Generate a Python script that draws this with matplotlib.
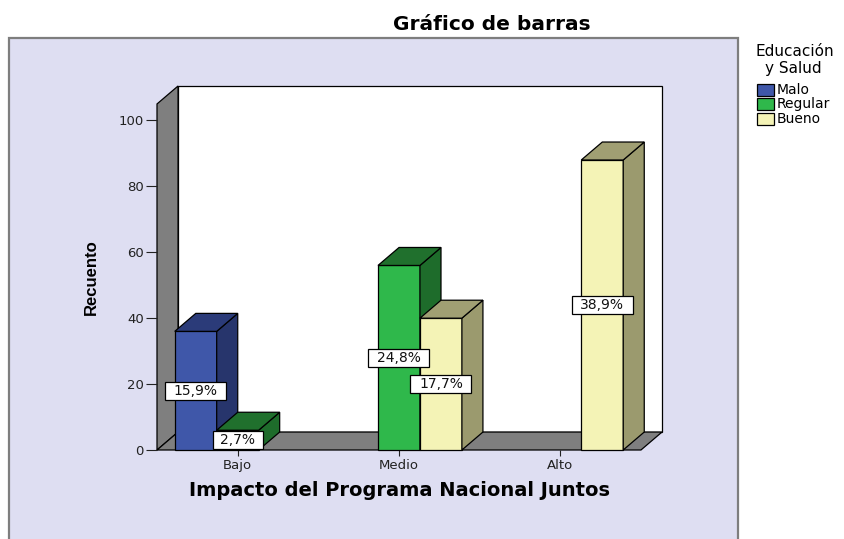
import matplotlib
matplotlib.use("Agg")
import matplotlib.pyplot as plt
import matplotlib.patches as mpatches
import matplotlib.transforms as mtransforms

# ---------------- data ----------------
categories = ["Bajo", "Medio", "Alto"]
series_names = ["Malo", "Regular", "Bueno"]
malo = [36, 0, 0]
regular = [6, 56, 0]
bueno = [0, 40, 88]
yticks = [0, 20, 40, 60, 80, 100]

title = "Gráfico de barras"
xlabel = "Impacto del Programa Nacional Juntos"
ylabel = "Recuento"
legend_title = ["Educación", "y Salud"]

# ---------------- style ----------------
W_PX, H_PX = 845, 539
front_cols = ["#3F57A9", "#2FB84B", "#F4F3B6"]
side_cols = ["#27356C", "#1E6C2B", "#9B9A6E"]
top_cols = ["#2B3B79", "#20702D", "#A09F73"]
wall_col = "#7F7F7F"
panel_col = "#DEDEF2"

BW = 0.26          # bar width (data units)
YMAX = 105         # front-plane top
DX = 21 / 161.0    # depth offset in x (data)
DY = 18 / 3.3      # depth offset in y (data)

fig = plt.figure(figsize=(W_PX / 100, H_PX / 100), dpi=100)
fig.patch.set_facecolor("white")

# lavender panel
panel = mpatches.Rectangle((9 / W_PX, -0.02), (738 - 9) / W_PX, 1.02 - 38 / H_PX,
                           transform=fig.transFigure, facecolor=panel_col,
                           edgecolor="#7E7E7E", linewidth=1.6, zorder=-5)
fig.patches.append(panel)

ax = fig.add_axes([157 / W_PX, (H_PX - 450) / H_PX, (662 - 157) / W_PX, (450 - 86) / H_PX])
ax.set_zorder(1)
ax.set_xlim(-0.5, 2.5 + DX)
ax.set_ylim(0, YMAX + DY)
ax.patch.set_visible(False)
for s in ax.spines.values():
    s.set_visible(False)

x0, x1 = -0.5, 2.5
ek = dict(edgecolor="black", linewidth=0.9, clip_on=False)
# back wall
ax.add_patch(mpatches.Polygon([(x0 + DX, DY), (x1 + DX, DY), (x1 + DX, YMAX + DY), (x0 + DX, YMAX + DY)],
                              closed=True, facecolor="white", zorder=1, **ek))
# left wall
ax.add_patch(mpatches.Polygon([(x0, 0), (x0, YMAX), (x0 + DX, YMAX + DY), (x0 + DX, DY)],
                              closed=True, facecolor=wall_col, zorder=1, **ek))
# floor
ax.add_patch(mpatches.Polygon([(x0, 0), (x1, 0), (x1 + DX, DY), (x0 + DX, DY)],
                              closed=True, facecolor=wall_col, zorder=1, **ek))

values = [malo, regular, bueno]
labels_to_draw = []
total = sum(sum(v) for v in values)
z = 2
for ci, cat in enumerate(categories):
    for si in range(len(series_names)):
        v = values[si][ci]
        if v <= 0:
            continue
        xl = ci + (si - 1) * BW - BW / 2
        xr = xl + BW
        ax.add_patch(mpatches.Polygon([(xl, 0), (xr, 0), (xr, v), (xl, v)], closed=True,
                                      facecolor=front_cols[si], zorder=z, **ek))
        ax.add_patch(mpatches.Polygon([(xr, 0), (xr + DX, DY), (xr + DX, v + DY), (xr, v)], closed=True,
                                      facecolor=side_cols[si], zorder=z, **ek))
        ax.add_patch(mpatches.Polygon([(xl, v), (xr, v), (xr + DX, v + DY), (xl + DX, v + DY)], closed=True,
                                      facecolor=top_cols[si], zorder=z, **ek))
        z += 1
        pct = 100.0 * v / total
        labels_to_draw.append(((xl + xr) / 2, v / 2, f"{pct:.1f}%".replace(".", ",")))

for (xc, yc, txt) in labels_to_draw:
    w = 11 * len(txt) + 6
    h = 18
    tr = mtransforms.ScaledTranslation(xc, yc, ax.transData)
    rect = mpatches.Rectangle((-w / 2, -h / 2), w, h, transform=mtransforms.Affine2D() + tr,
                              facecolor="white", edgecolor="black", linewidth=0.9, zorder=50)
    ax.add_artist(rect)
    ax.text(xc, yc, txt, ha="center", va="center", fontsize=10, family="DejaVu Sans",
            color="#111111", zorder=51)

# ticks
ax.set_yticks(yticks)
ax.set_yticklabels([str(t) for t in yticks], family="DejaVu Sans")
ax.tick_params(axis="y", direction="out", length=8, width=0.8, pad=1.5, labelsize=9.5, colors="#222222")
ax.set_xticks(range(len(categories)))
ax.set_xticklabels(categories, family="DejaVu Sans")
ax.tick_params(axis="x", direction="out", length=4.5, width=0.8, pad=2, labelsize=9.5, colors="#222222")

# axis labels
ax.set_xlabel(xlabel, fontsize=14, fontweight="bold", family="DejaVu Sans")
ax.xaxis.set_label_coords((400 - 157) / 505, (450 - 491) / 364)
ax.xaxis.label.set_verticalalignment("center")
ax.set_ylabel(ylabel, fontsize=12, fontweight="bold", family="Liberation Sans")
ax.yaxis.set_label_coords((91 - 157) / 505, (450 - 277) / 364)
ax.yaxis.label.set_verticalalignment("center")

# title
fig.text(492 / W_PX, 1 - 25 / H_PX, title, ha="center", va="center", fontsize=14.5,
         fontweight="bold", family="DejaVu Sans")

# legend
fig.text(795 / W_PX, 1 - 51 / H_PX, legend_title[0], ha="center", va="center", fontsize=11,
         family="DejaVu Sans")
fig.text(793 / W_PX, 1 - 68 / H_PX, legend_title[1], ha="center", va="center", fontsize=11,
         family="DejaVu Sans")
for i, name in enumerate(series_names):
    yc = [90, 104, 119][i]
    fig.patches.append(mpatches.Rectangle((757 / W_PX, 1 - (yc + 6) / H_PX), 17 / W_PX, 12 / H_PX,
                                          transform=fig.transFigure, facecolor=front_cols[i],
                                          edgecolor="black", linewidth=0.9, zorder=3))
    fig.text(777 / W_PX, 1 - yc / H_PX, name, ha="left", va="center", fontsize=10,
             family="DejaVu Sans")

fig.savefig("out.png", dpi=100)
